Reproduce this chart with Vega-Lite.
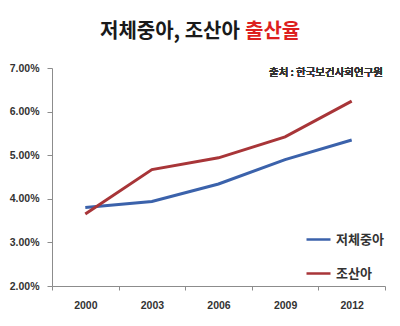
{
  "$schema": "https://vega.github.io/schema/vega-lite/v6.json",
  "autosize": "none",
  "width": 333,
  "height": 218,
  "padding": {"left": 52, "top": 68, "right": 15, "bottom": 40},
  "background": "white",
  "title": {
    "text": "저체중아, 조산아",
    "subtitle": "출산율",
    "anchor": "start",
    "frame": "group",
    "align": "left",
    "dx": 193,
    "offset": 21,
    "encoding": {"dx": {"value": 48}},
    "font": "Noto Sans CJK KR",
    "fontSize": 20,
    "fontWeight": "bold",
    "color": "#1a1a1a",
    "subtitleFont": "Noto Sans CJK KR",
    "subtitleFontSize": 20,
    "subtitleFontWeight": "bold",
    "subtitleColor": "#dd1f1f",
    "subtitlePadding": -20
  },
  "data": {
    "values": [
      {"year": "2000", "group": "저체중아", "rate": 3.80},
      {"year": "2003", "group": "저체중아", "rate": 3.94},
      {"year": "2006", "group": "저체중아", "rate": 4.34},
      {"year": "2009", "group": "저체중아", "rate": 4.90},
      {"year": "2012", "group": "저체중아", "rate": 5.35},
      {"year": "2000", "group": "조산아", "rate": 3.65},
      {"year": "2003", "group": "조산아", "rate": 4.67},
      {"year": "2006", "group": "조산아", "rate": 4.94},
      {"year": "2009", "group": "조산아", "rate": 5.42},
      {"year": "2012", "group": "조산아", "rate": 6.24}
    ]
  },
  "config": {
    "view": {"stroke": null},
    "axis": {
      "domainColor": "#8c8c8c",
      "tickColor": "#8c8c8c",
      "grid": false,
      "labelFont": "Liberation Sans",
      "labelFontSize": 10.5,
      "labelFontWeight": "bold",
      "labelColor": "#333333",
      "title": null
    }
  },
  "layer": [
    {
      "mark": {"type": "line", "strokeWidth": 3},
      "encoding": {
        "x": {
          "field": "year",
          "type": "ordinal",
          "scale": {"type": "band", "paddingInner": 0, "paddingOuter": 0},
          "axis": {"labelAngle": 0, "tickBand": "extent", "tickSize": 4, "labelPadding": 10}
        },
        "y": {
          "field": "rate",
          "type": "quantitative",
          "scale": {"domain": [2, 7], "nice": false, "zero": false},
          "axis": {
            "values": [2, 3, 4, 5, 6, 7],
            "labelExpr": "format(datum.value, '.2f') + '%'",
            "tickSize": 5,
            "labelPadding": 8
          }
        },
        "color": {
          "field": "group",
          "type": "nominal",
          "scale": {"domain": ["저체중아", "조산아"], "range": ["#3b62ab", "#a83538"]},
          "legend": {
            "title": null,
            "orient": "none",
            "legendX": 253,
            "legendY": 158,
            "symbolType": "stroke",
            "symbolSize": 576,
            "symbolStrokeWidth": 2.5,
            "rowPadding": 13,
            "labelFont": "Noto Sans CJK KR",
            "labelFontSize": 13,
            "labelFontWeight": "bold",
            "labelColor": "#333333",
            "labelOffset": 4
          }
        }
      }
    },
    {
      "mark": {
        "type": "text",
        "align": "right",
        "baseline": "middle",
        "dx": -2,
        "font": "Noto Sans CJK KR",
        "fontSize": 10.5,
        "fontWeight": "normal",
        "color": "#333333"
      },
      "encoding": {
        "x": {"value": "width"},
        "y": {"datum": 6.88, "type": "quantitative"},
        "text": {"value": "출처 : 한국보건사회연구원"}
      }
    }
  ]
}
